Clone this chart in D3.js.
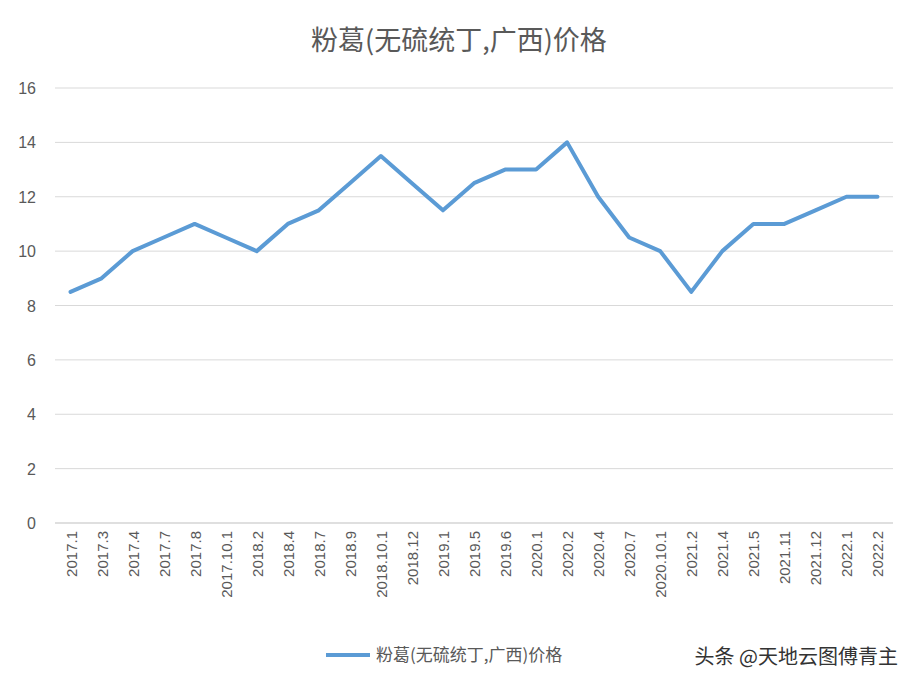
<!DOCTYPE html>
<html><head><meta charset="utf-8">
<script src="https://cdn.jsdelivr.net/npm/d3@7"></script>
<style>body{margin:0;background:#fff}text{font-family:"Noto Sans CJK SC","Liberation Sans",sans-serif}.n{font-family:"Liberation Sans",sans-serif}</style>
</head><body><svg id="c" width="918" height="688"></svg>
<script>
const categories=["2017.1","2017.3","2017.4","2017.7","2017.8","2017.10.1","2018.2","2018.4","2018.7","2018.9","2018.10.1","2018.12","2019.1","2019.5","2019.6","2020.1","2020.2","2020.4","2020.7","2020.10.1","2021.2","2021.4","2021.5","2021.11","2021.12","2022.1","2022.2"];
const values=[8.5,9,10,10.5,11,10.5,10,11,11.5,12.5,13.5,12.5,11.5,12.5,13,13,14,12,10.5,10,8.5,10,11,11,11.5,12,12];
const yTicks=[0,2,4,6,8,10,12,14,16];
const title="粉葛(无硫统丁,广西)价格";
const svg=d3.select("#c");
const x=d3.scaleBand().domain(categories).range([55,893]);
const y=d3.scaleLinear().domain([0,16]).range([523,88]);
svg.append("g").selectAll("line").data(yTicks).join("line")
 .attr("x1",55).attr("x2",893).attr("y1",d=>y(d)).attr("y2",d=>y(d))
 .attr("stroke",d=>d===0?"#bfbfbf":"#d9d9d9").attr("stroke-width",1);
svg.append("g").selectAll("text").data(yTicks).join("text").attr("class","n")
 .attr("x",36).attr("y",d=>y(d)+6).attr("text-anchor","end").attr("font-size",16).attr("fill","#595959").text(d=>d);
svg.append("g").selectAll("text").data(categories).join("text").attr("class","n")
 .attr("transform",d=>`translate(${x(d)+x.bandwidth()/2+6},531) rotate(-90)`)
 .attr("text-anchor","end").attr("font-size",15).attr("fill","#595959").text(d=>d);
const line=d3.line().x((d,i)=>x(categories[i])+x.bandwidth()/2).y(d=>y(d));
svg.append("path").datum(values).attr("d",line).attr("fill","none").attr("stroke","#5b9bd5").attr("stroke-width",4).attr("stroke-linejoin","round").attr("stroke-linecap","round");
svg.append("text").attr("x",459).attr("y",50).attr("text-anchor","middle").attr("font-size",27).attr("fill","#595959").text(title);
svg.append("line").attr("x1",326).attr("x2",370).attr("y1",655).attr("y2",655).attr("stroke","#5b9bd5").attr("stroke-width",4);
svg.append("text").attr("x",376).attr("y",661).attr("font-size",17).attr("fill","#595959").text(title);
svg.append("text").attr("x",898).attr("y",664).attr("text-anchor","end").attr("font-size",20).attr("fill","#333").text("头条 @天地云图傅青主");
</script></body></html>
